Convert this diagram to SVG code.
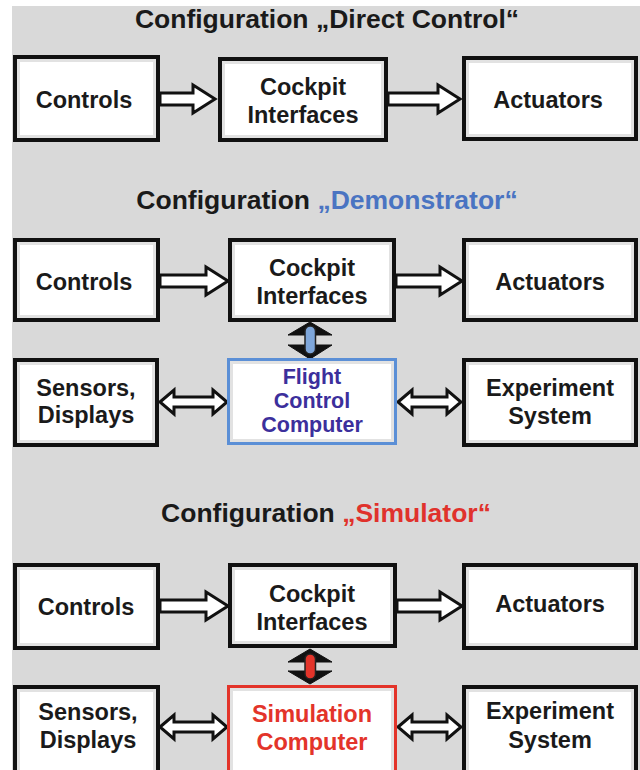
<svg xmlns="http://www.w3.org/2000/svg" width="640" height="770" viewBox="0 0 640 770">
  <style>
    .title { font-family: "Liberation Sans", Arial, sans-serif; font-weight: bold; font-size: 26.5px; fill: #1a1a1a; text-anchor: middle; }
    .lbl { font-family: "Liberation Sans", Arial, sans-serif; font-weight: bold; font-size: 23.5px; fill: #1a1a1a; text-anchor: middle; }
    .fcc { font-size: 21.5px; }
    .box { fill: #ffffff; stroke: #111111; stroke-width: 4; }
    .inner { fill: none; stroke: #e2e2e2; stroke-width: 3; }
    .arrow { fill: #ffffff; stroke: #111111; stroke-width: 3; stroke-linejoin: miter; }
    .head { fill: #111111; stroke: #111111; stroke-width: 1; }
    .blue { fill: #3c2f9c; }
    .red { fill: #e3342a; }
  </style>

  <!-- canvas -->
  <rect x="0" y="0" width="640" height="770" fill="#ffffff"/>
  <rect x="12" y="6" width="628" height="764" fill="#d9d9d9"/>

  <!-- section titles -->
  <text class="title" x="327" y="28">Configuration „Direct Control“</text>
  <text class="title" x="327" y="209">Configuration <tspan fill="#4a74c2">„Demonstrator“</tspan></text>
  <text class="title" x="326" y="522">Configuration <tspan fill="#e0322c">„Simulator“</tspan></text>

  <!-- connectors -->
  <g id="connectors">
    <!-- Direct Control -->
    <path class="arrow" d="M160,93 H193 V85 L215,99 L193,113 V105 H160 Z"/>
    <path class="arrow" d="M388,93 H438 V85 L460,99 L438,113 V105 H388 Z"/>
    <!-- Demonstrator -->
    <path class="arrow" d="M160,275 H206 V267 L228,281 L206,295 V287 H160 Z"/>
    <path class="arrow" d="M396,275 H440 V267 L462,281 L440,295 V287 H396 Z"/>
    <path class="arrow" d="M160,402 L174,390 V397 H213 V390 L227,402 L213,414 V407 H174 V414 Z"/>
    <path class="arrow" d="M398,402 L412,390 V397 H447 V390 L461,402 L447,414 V407 H412 V414 Z"/>
    <polygon class="head" points="288,335 332,335 310,322"/>
    <polygon class="head" points="288,345 332,345 310,359"/>
    <rect x="305" y="326" width="10.5" height="28" rx="5" fill="#7ea6da" stroke="#222222" stroke-width="1.5"/>
    <!-- Simulator -->
    <path class="arrow" d="M160,600 H206 V592 L228,606 L206,620 V612 H160 Z"/>
    <path class="arrow" d="M397,600 H440 V592 L462,606 L440,620 V612 H397 Z"/>
    <path class="arrow" d="M160,727 L174,715 V722 H213 V715 L227,727 L213,739 V732 H174 V739 Z"/>
    <path class="arrow" d="M398,727 L412,715 V722 H447 V715 L461,727 L447,739 V732 H412 V739 Z"/>
    <polygon class="head" points="288,662 332,662 310,649"/>
    <polygon class="head" points="288,671 332,671 310,684"/>
    <rect x="305" y="654" width="10.5" height="25" rx="5" fill="#e3342a" stroke="#222222" stroke-width="1.5"/>
  </g>

  <!-- Direct Control -->
  <g id="dc-controls">
    <rect class="box" x="15" y="57" width="143" height="83"/>
    <rect class="inner" x="18.5" y="60.5" width="136" height="76"/>
    <text class="lbl" x="84" y="108">Controls</text>
  </g>
  <g id="dc-cockpit">
    <rect class="box" x="220" y="59" width="166" height="81"/>
    <rect class="inner" x="223.5" y="62.5" width="159" height="74"/>
    <text class="lbl" x="303" y="95">Cockpit</text>
    <text class="lbl" x="303" y="123">Interfaces</text>
  </g>
  <g id="dc-actuators">
    <rect class="box" x="464" y="58" width="172" height="81"/>
    <rect class="inner" x="467.5" y="61.5" width="165" height="74"/>
    <text class="lbl" x="548" y="108">Actuators</text>
  </g>

  <!-- Demonstrator -->
  <g id="demo-controls">
    <rect class="box" x="15" y="240" width="143" height="80"/>
    <rect class="inner" x="18.5" y="243.5" width="136" height="73"/>
    <text class="lbl" x="84" y="290">Controls</text>
  </g>
  <g id="demo-cockpit">
    <rect class="box" x="230" y="240" width="164" height="80"/>
    <rect class="inner" x="233.5" y="243.5" width="157" height="73"/>
    <text class="lbl" x="312" y="276">Cockpit</text>
    <text class="lbl" x="312" y="304">Interfaces</text>
  </g>
  <g id="demo-actuators">
    <rect class="box" x="464" y="240" width="172" height="80"/>
    <rect class="inner" x="467.5" y="243.5" width="165" height="73"/>
    <text class="lbl" x="550" y="290">Actuators</text>
  </g>
  <g id="demo-sensors">
    <rect class="box" x="15" y="360" width="142" height="85"/>
    <rect class="inner" x="18.5" y="363.5" width="135" height="78"/>
    <text class="lbl" x="86" y="396">Sensors,</text>
    <text class="lbl" x="86" y="423">Displays</text>
  </g>
  <g id="demo-fcc">
    <rect x="228.5" y="359.5" width="167" height="84" fill="#ffffff" stroke="#5b8fd6" stroke-width="3"/>
    <rect class="inner" x="231.5" y="362.5" width="161" height="78"/>
    <text class="lbl fcc blue" x="312" y="384">Flight</text>
    <text class="lbl fcc blue" x="312" y="408">Control</text>
    <text class="lbl fcc blue" x="312" y="432">Computer</text>
  </g>
  <g id="demo-experiment">
    <rect class="box" x="464" y="360" width="172" height="85"/>
    <rect class="inner" x="467.5" y="363.5" width="165" height="78"/>
    <text class="lbl" x="550" y="396">Experiment</text>
    <text class="lbl" x="550" y="424">System</text>
  </g>

  <!-- Simulator -->
  <g id="sim-controls">
    <rect class="box" x="15" y="565" width="143" height="83"/>
    <rect class="inner" x="18.5" y="568.5" width="136" height="76"/>
    <text class="lbl" x="86" y="615">Controls</text>
  </g>
  <g id="sim-cockpit">
    <rect class="box" x="230" y="565" width="165" height="81"/>
    <rect class="inner" x="233.5" y="568.5" width="158" height="74"/>
    <text class="lbl" x="312" y="602">Cockpit</text>
    <text class="lbl" x="312" y="630">Interfaces</text>
  </g>
  <g id="sim-actuators">
    <rect class="box" x="464" y="565" width="172" height="83"/>
    <rect class="inner" x="467.5" y="568.5" width="165" height="76"/>
    <text class="lbl" x="550" y="612">Actuators</text>
  </g>
  <g id="sim-sensors">
    <rect class="box" x="15" y="687" width="143" height="95"/>
    <rect class="inner" x="18.5" y="690.5" width="136" height="88"/>
    <text class="lbl" x="88" y="720">Sensors,</text>
    <text class="lbl" x="88" y="748">Displays</text>
  </g>
  <g id="sim-computer">
    <rect x="228.5" y="686.5" width="167" height="95" fill="#ffffff" stroke="#e3342a" stroke-width="3"/>
    <rect class="inner" x="231.5" y="689.5" width="161" height="89"/>
    <text class="lbl red" x="312" y="722">Simulation</text>
    <text class="lbl red" x="312" y="750">Computer</text>
  </g>
  <g id="sim-experiment">
    <rect class="box" x="464" y="687" width="172" height="95"/>
    <rect class="inner" x="467.5" y="690.5" width="165" height="88"/>
    <text class="lbl" x="550" y="719">Experiment</text>
    <text class="lbl" x="550" y="748">System</text>
  </g>
</svg>
